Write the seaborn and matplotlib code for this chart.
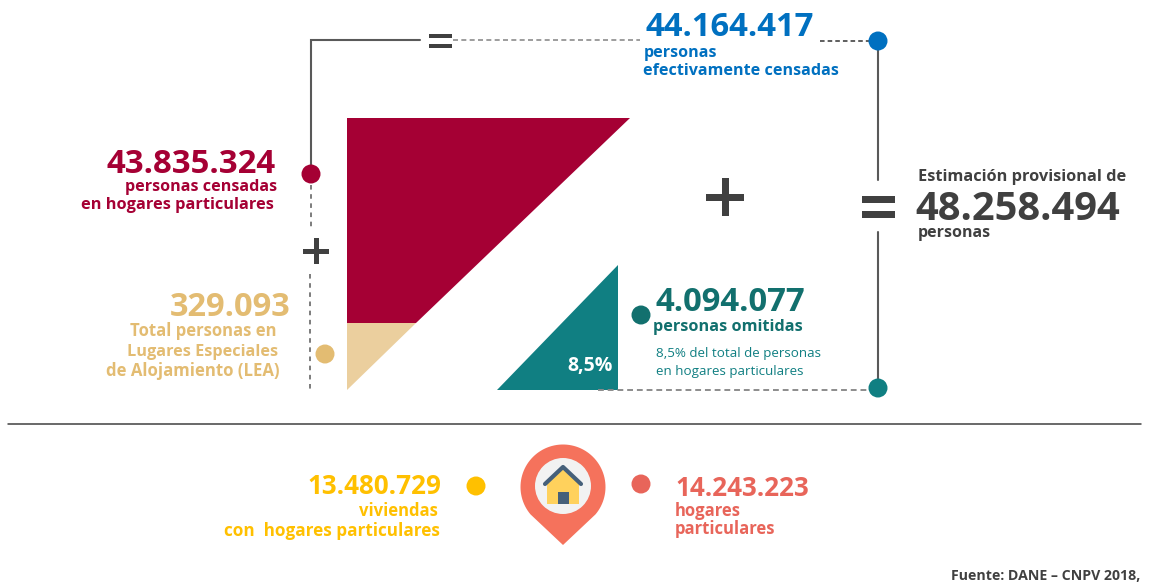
import numpy as np
import pandas as pd
import matplotlib
matplotlib.use('Agg')
import matplotlib.pyplot as plt
from matplotlib.patches import Circle, Polygon, Rectangle
import seaborn as sns

# ===============================
# Values
# ===============================
censadas_total = 44164417
censadas_hogares = 43835324
censadas_lea = 329093
omitidas = 4094077
estimacion = 48258494
viviendas = 13480729
hogares = 14243223
pct_omitidas = '8,5%'

# colours
BLUE = '#0070C0'
CRIMSON = '#A50034'
TAN = '#E3BC72'
TAN_FILL = '#EBCF9E'
TEAL = '#107F82'
TEAL_DARK = '#12706E'
YELLOW = '#FFC000'
CORAL = '#E8655A'
PIN = '#F5725C'
DARK = '#404040'


def fmt(n):
    return f'{n:,}'.replace(',', '.')


sns.set_theme(style='white')
plt.rcParams['font.family'] = ['Open Sans', 'DejaVu Sans']

fig, ax = plt.subplots(figsize=(11.58, 5.84), dpi=100)
fig.subplots_adjust(0, 0, 1, 1)
ax.set_xlim(0, 1158)
ax.set_ylim(584, 0)
ax.axis('off')


def label(x, y, s, color, size, ha='left', weight='bold'):
    ax.text(x, y, s, color=color, fontsize=size, ha=ha, va='baseline', fontweight=weight)


# ===============================
# Connectors
# ===============================
ax.plot([311, 311, 420], [175, 40, 40], color='#595959', lw=1.5, solid_joinstyle='miter')
ax.plot([878, 878], [41, 180], color='#595959', lw=1.5)
ax.plot([878, 878], [232, 388], color='#595959', lw=1.5)
ax.plot([453, 640], [40, 40], color='#8c8c8c', lw=1.2, ls=(0, (3, 2)))
ax.plot([820, 878], [41, 41], color='#333333', lw=1.1, ls=(0, (3, 2)))
ax.plot([311, 311], [185, 230], color='#595959', lw=1.1, ls=(0, (3, 3)))
ax.plot([310, 310], [274, 390], color='#595959', lw=1.1, ls=(0, (3, 3)))
ax.plot([598, 878], [390, 390], color='#8c8c8c', lw=1.4, ls=(0, (3, 2)))
ax.plot([8, 1141], [424, 424], color=DARK, lw=1.1)

# ===============================
# Triangles
# ===============================
ax.add_patch(Polygon([(347, 118), (630, 118), (416, 323), (347, 323)], color=CRIMSON, lw=0))
ax.add_patch(Polygon([(347, 323), (416, 323), (347, 390)], color=TAN_FILL, lw=0))
ax.add_patch(Polygon([(618, 265), (618, 390), (497, 390)], color=TEAL, lw=0))


# ===============================
# Plus and equals signs
# ===============================
def plus(cx, cy, size, thick):
    ax.add_patch(Rectangle((cx - size / 2, cy - thick / 2), size, thick, color=DARK, lw=0))
    ax.add_patch(Rectangle((cx - thick / 2, cy - size / 2), thick, size, color=DARK, lw=0))


def equals(x0, x1, y0, y1, thick):
    ax.add_patch(Rectangle((x0, y0), x1 - x0, thick, color=DARK, lw=0))
    ax.add_patch(Rectangle((x0, y1), x1 - x0, thick, color=DARK, lw=0))


plus(316, 251, 26, 5)
plus(725, 197, 38, 7)
equals(429, 452, 34, 44, 4)
equals(862, 895, 196, 211, 7)

# ===============================
# Dots
# ===============================
dots = pd.DataFrame({
    'x': [878, 311, 325, 641, 878, 476, 641],
    'y': [41, 174, 354, 315, 388, 486, 484],
    'name': ['total', 'hogares', 'lea', 'omitidas', 'fin', 'viviendas', 'hogares2'],
})
dot_colors = dict(zip(dots['name'], [BLUE, CRIMSON, TAN, TEAL_DARK, TEAL, YELLOW, CORAL]))
sns.scatterplot(data=dots, x='x', y='y', hue='name', palette=dot_colors, s=187,
                linewidth=0, legend=False, ax=ax, zorder=5)
ax.set_xlabel('')
ax.set_ylabel('')

# ===============================
# House pin
# ===============================
cx, cy, r = 563, 487, 42.5
ang = np.radians(np.linspace(220, -40, 80))
pin = [(cx + r * np.cos(a), cy - r * np.sin(a)) for a in ang]
pin = pin + [(563, 545)]
ax.add_patch(Polygon(pin, color=PIN, lw=0))
ax.add_patch(Circle((cx, 486), 28, color='#F2F2F2', lw=0))
ax.add_patch(Polygon([(547, 504), (547, 482), (563, 469), (579, 482), (579, 504)],
                     color='#FFD15C', lw=0))
ax.add_patch(Rectangle((558, 492), 11, 12, color='#46607A', lw=0))
ax.plot([545, 563, 581], [484, 467, 484], color='#46607A', lw=3, solid_capstyle='round')

# ===============================
# Text
# ===============================
label(645, 36, fmt(censadas_total), BLUE, 23.7)
label(644, 57, 'personas', BLUE, 11.6)
label(643, 75, 'efectivamente censadas', BLUE, 11.6)

label(276, 173, fmt(censadas_hogares), CRIMSON, 23.7, ha='right')
label(277, 191, 'personas censadas', CRIMSON, 11.6, ha='right')
label(274, 209, 'en hogares particulares', CRIMSON, 11.75, ha='right')

label(291, 316, fmt(censadas_lea), TAN, 23.5, ha='right')
label(277, 336, 'Total personas en', TAN, 12, ha='right')
label(278, 356, 'Lugares Especiales', TAN, 11.7, ha='right')
label(280, 376, 'de Alojamiento (LEA)', TAN, 12.1, ha='right')

label(655, 311, fmt(omitidas), TEAL_DARK, 23.7)
label(653, 331, 'personas omitidas', TEAL_DARK, 11.7)
label(656, 357, '8,5% del total de personas', TEAL, 9.6, weight='normal')
label(656, 375, 'en hogares particulares', TEAL, 9.6, weight='normal')
label(590, 371, pct_omitidas, 'white', 14, ha='center')

label(918, 181, 'Estimación provisional de', DARK, 11.8)
label(915, 220, fmt(estimacion), DARK, 28.7)
label(918, 237, 'personas', DARK, 11.5)

label(441, 494, fmt(viviendas), YELLOW, 18.7, ha='right')
label(438, 516, 'viviendas', YELLOW, 12, ha='right')
label(440, 536, 'con  hogares particulares', YELLOW, 12.3, ha='right')

label(675, 496, fmt(hogares), CORAL, 18.7)
label(675, 516, 'hogares', CORAL, 12)
label(675, 534, 'particulares', CORAL, 12)

label(951, 580, 'Fuente: DANE – CNPV 2018,', DARK, 10.2)

plt.savefig('out.png', dpi=100)
plt.close()
